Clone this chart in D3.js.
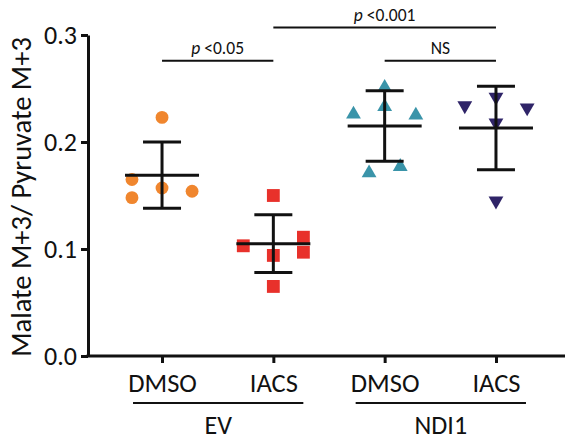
<!DOCTYPE html>
<html>
<head>
<meta charset="utf-8">
<script src="https://cdn.jsdelivr.net/npm/d3@7"></script>
<style>
  body { margin: 0; background: #fff; }
  text { font-family: Carlito, Calibri, Lato, sans-serif; fill: #111; }
  .axis path, .axis line { stroke: #111; stroke-width: 3; }
  .axis.y text { font-size: 26px; }
  .axis.x text { font-size: 26.5px; }
</style>
</head>
<body>
<div id="chart"></div>
<script>
var margin = { top: 35, right: 0, bottom: 84, left: 88 },
    width = 565 - margin.left - margin.right,
    height = 440 - margin.top - margin.bottom;

// groups on the x axis
var categories = ['EV DMSO', 'EV IACS', 'NDI1 DMSO', 'NDI1 IACS'];
var tickLabels = ['DMSO', 'IACS', 'DMSO', 'IACS'];
var groupLabels = ['EV', 'NDI1'];

// individual points per group
var evDmso = [0.223, 0.165, 0.148, 0.157, 0.154];
var evIacs = [0.150, 0.103, 0.111, 0.097, 0.094, 0.065];
var ndiDmso = [0.251, 0.233, 0.226, 0.225, 0.171, 0.177];
var ndiIacs = [0.234, 0.242, 0.232, 0.218, 0.145];
// x jitter (in units of group spacing) as drawn in the figure
var evDmsoJit = [0, -0.27, -0.27, 0, 0.27];
var evIacsJit = [0, -0.27, 0.27, 0.27, 0, 0];
var ndiDmsoJit = [0, 0, -0.28, 0.28, -0.14, 0.14];
var ndiIacsJit = [-0.28, 0, 0.28, 0, 0];

// mean and SD
var means = [0.169, 0.105, 0.215, 0.213];
var sds = [0.031, 0.027, 0.033, 0.039];

var colors = ['#f0862e', '#e8312b', '#3a94a9', '#2f2468'];
var symbols = [d3.symbolCircle, d3.symbolSquare, d3.symbolTriangle, d3.symbolTriangle];
var symbolSizes = [130, 165, 95, 95];

var yTicks = [0, 0.1, 0.2, 0.3];

var series = [evDmso, evIacs, ndiDmso, ndiIacs];
var jitters = [evDmsoJit, evIacsJit, ndiDmsoJit, ndiIacsJit];

var svg = d3.select('#chart')
    .append('svg')
    .attr('width', 565)
    .attr('height', 440);

var plot = svg.append('g')
    .attr('transform', `translate(${margin.left}, ${margin.top})`);

var x = d3.scalePoint()
    .domain(categories)
    .range([0, 482])
    .padding(0.665);
var step = x.step();

var y = d3.scaleLinear()
    .domain([0, 0.3])
    .range([height, 0]);

// y axis
plot.append('g')
    .attr('class', 'axis y')
    .call(d3.axisLeft(y).tickValues(yTicks).tickFormat(d3.format('.1f')).tickSize(7).tickSizeOuter(0).tickPadding(4));

// x axis
var xAxis = plot.append('g')
    .attr('class', 'axis x')
    .attr('transform', `translate(0, ${height})`)
    .call(d3.axisBottom(x).tickSize(7).tickSizeOuter(0).tickPadding(10).tickFormat((d, i) => tickLabels[i]));
xAxis.select('.domain').attr('d', `M-1.5,0H${width + 10}`);

// group lines under the labels
var groups = groupLabels.map((g, i) => ({
    label: g,
    x0: x(categories[i * 2]) - 29,
    x1: x(categories[i * 2 + 1]) + 30
}));
plot.selectAll('.grp-line')
    .data(groups)
    .enter()
    .append('line')
    .attr('x1', d => d.x0)
    .attr('x2', d => d.x1)
    .attr('y1', height + 47)
    .attr('y2', height + 47)
    .attr('stroke', '#111')
    .attr('stroke-width', 2);
plot.selectAll('.grp-label')
    .data(groups)
    .enter()
    .append('text')
    .attr('x', d => (d.x0 + d.x1) / 2)
    .attr('y', height + 69)
    .attr('dy', '0.35em')
    .style('text-anchor', 'middle')
    .style('font-size', '26px')
    .text(d => d.label);

// points
series.forEach(function (vals, i) {
    var sym = d3.symbol().type(symbols[i]).size(symbolSizes[i]);
    plot.append('g')
        .selectAll('path')
        .data(vals)
        .enter()
        .append('path')
        .attr('d', sym)
        .attr('fill', colors[i])
        .attr('transform', (d, j) => `translate(${x(categories[i]) + jitters[i][j] * step}, ${y(d)})` + (i === 3 ? ' rotate(180)' : ''));
});

// mean + SD bars
var err = plot.append('g')
    .selectAll('g')
    .data(categories)
    .enter()
    .append('g')
    .attr('stroke', '#111')
    .attr('stroke-width', 3);
err.append('line')
    .attr('x1', d => x(d) - 37).attr('x2', d => x(d) + 37)
    .attr('y1', (d, i) => y(means[i])).attr('y2', (d, i) => y(means[i]));
err.append('line')
    .attr('x1', d => x(d)).attr('x2', d => x(d))
    .attr('y1', (d, i) => y(means[i] - sds[i])).attr('y2', (d, i) => y(means[i] + sds[i]));
err.append('line')
    .attr('x1', d => x(d) - 19).attr('x2', d => x(d) + 19)
    .attr('y1', (d, i) => y(means[i] + sds[i])).attr('y2', (d, i) => y(means[i] + sds[i]));
err.append('line')
    .attr('x1', d => x(d) - 19).attr('x2', d => x(d) + 19)
    .attr('y1', (d, i) => y(means[i] - sds[i])).attr('y2', (d, i) => y(means[i] - sds[i]));

// significance brackets
var sigFrom = [0, 2, 1];
var sigTo = [1, 3, 3];
var sigLevel = [0.276, 0.276, 0.307];
var sigText = [['p', ' <0.05'], ['', 'NS'], ['p', ' <0.001']];
sigFrom.forEach(function (a, i) {
    var xa = x(categories[a]), xb = x(categories[sigTo[i]]);
    var yy = y(sigLevel[i]);
    plot.append('line')
        .attr('x1', xa).attr('x2', xb)
        .attr('y1', yy).attr('y2', yy)
        .attr('stroke', '#111')
        .attr('stroke-width', 2);
    var t = plot.append('text')
        .attr('x', (xa + xb) / 2)
        .attr('y', yy - 7)
        .style('text-anchor', 'middle')
        .style('font-size', '17.5px');
    if (sigText[i][0]) t.append('tspan').style('font-style', 'italic').text(sigText[i][0]);
    t.append('tspan').text(sigText[i][1]);
});

// y axis title
svg.append('text')
    .attr('transform', 'translate(31, 197) rotate(-90)')
    .style('text-anchor', 'middle')
    .style('font-size', '28.5px')
    .text('Malate M+3/ Pyruvate M+3');
</script>
</body>
</html>
